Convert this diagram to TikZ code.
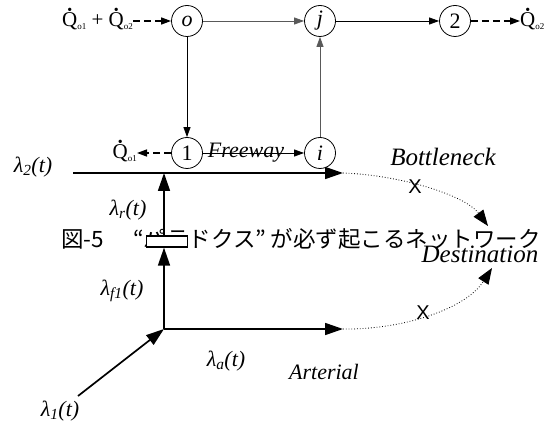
\documentclass[tikz,border=0pt]{standalone}
\usepackage{fontspec}
\setmainfont{Liberation Serif}
\setsansfont{Liberation Sans}
\newfontfamily\jpfont{Noto Sans CJK JP}
\usetikzlibrary{arrows.meta}
\newcommand\Qdot[1]{{\ooalign{Q\cr\hidewidth\raisebox{0.6em}{\fontsize{14}{14}\selectfont\textbullet}\hidewidth\cr}}{\fontsize{9}{9}\selectfont\raisebox{-0.6ex}{#1}}}
\newcommand\lam[1]{λ\textsubscript{#1}(t)}
\begin{document}
\begin{tikzpicture}[x=1pt,y=-1pt,
  lab/.style={font=\fontsize{22}{24}\selectfont\itshape, inner sep=0pt},
  biglab/.style={font=\fontsize{25}{27}\selectfont\itshape, inner sep=0pt},
  qlab/.style={font=\fontsize{21}{23}\selectfont, inner sep=0pt},
  circ/.style={draw, circle, minimum size=31pt, inner sep=0pt, line width=0.8pt, font=\fontsize{22}{24}\selectfont},
  thinarrow/.style={-{Triangle[length=10pt,width=7pt]}, line width=0.8pt},
  thickarrow/.style={-{Triangle[length=18pt,width=12pt]}, line width=1.7pt},
  dasharrow/.style={-{Triangle[length=10pt,width=7pt]}, dash pattern=on 7pt off 4pt, line width=1.4pt},
  dotarrow/.style={-{Triangle[length=16pt,width=12pt]}, dotted, line width=0.8pt},
  xmark/.style={font=\fontsize{20}{20}\selectfont\sffamily, inner sep=0pt}
]
\useasboundingbox (0,0) rectangle (545,427);

% caption (drawn first, overlapped by the diagram)
\node[anchor=west, inner sep=0pt, font=\jpfont\fontsize{22.5}{22.5}\selectfont] (cap) at (61,239) {図-5　\hspace{0.3em}“パラドクス”\hspace{0.2em}が必ず起こるネットワーク};

% top network nodes
\node[circ] (o) at (187,21) {\textit{o}};
\node[circ] (j) at (320,21) {\textit{j}};
\node[circ] (two) at (455,21) {2};
\node[circ] (one) at (187,153) {1};
\node[circ] (i) at (320,153) {\textit{i}};

\node[qlab, anchor=east] (qin) at (133,21) {\Qdot{o1} + \Qdot{o2}};
\node[qlab, anchor=west] (qout) at (520,21) {\Qdot{o2}};
\node[qlab, anchor=east] (qo1) at (137,153) {\Qdot{o1}};

\draw[dasharrow] (qin.east) -- (o.west);
\draw[thinarrow, black!65] (o) -- (j);
\draw[thinarrow] (j) -- (two);
\draw[dasharrow] (two) -- (qout.west);
\draw[thinarrow] (o) -- (one);
\draw[thinarrow, black!65] (i) -- (j);
\draw[dasharrow] (one.west) -- (qo1.east);
\draw[thinarrow] (one) -- (i);
\node[lab] (fw) at (246,153) {Freeway};

% freeway, ramp, arterial
\coordinate (fwL) at (73,173);
\coordinate (fwE) at (343,173);
\coordinate (rampTop) at (164,173);
\coordinate (jn) at (164,329);
\coordinate (art) at (343,329);
\coordinate (origin) at (78,396);
\draw[thickarrow] (fwL) -- (fwE);
\node[draw, fill=white, line width=1.3pt, minimum width=41pt, minimum height=11pt, inner sep=0pt] (meter) at (167,241.5) {};
\draw[thickarrow] (jn) -- (jn |- meter.south);
\draw[thickarrow] (jn |- meter.north) -- (rampTop);
\draw[thickarrow] (jn) -- (art);
\draw[thickarrow] (origin) -- (jn);

% destination paths
\coordinate (dest1) at (488,226);
\coordinate (dest2) at (492,268);
\draw[dotarrow] (fwE) .. controls (400,175) and (465,195) .. (dest1);
\draw[dotarrow] (art) .. controls (400,330) and (465,310) .. (dest2);
\node[xmark] (xa) at (415,187) {X};
\node[xmark] (xb) at (423,313) {X};

% labels
\node[biglab] (bn) at (443,157) {Bottleneck};
\node[biglab] (dst) at (480,254) {Destination};
\node[lab] (arl) at (324,372) {Arterial};
\node[lab] (la) at (226,361) {\lam{a}};
\node[lab] (l1) at (60,411) {\lam{1}};
\node[lab] (lf) at (122,291) {\lam{f1}};
\node[lab] (lr) at (128,210) {\lam{r}};
\node[lab] (l2) at (33,167) {\lam{2}};
\end{tikzpicture}
\end{document}
